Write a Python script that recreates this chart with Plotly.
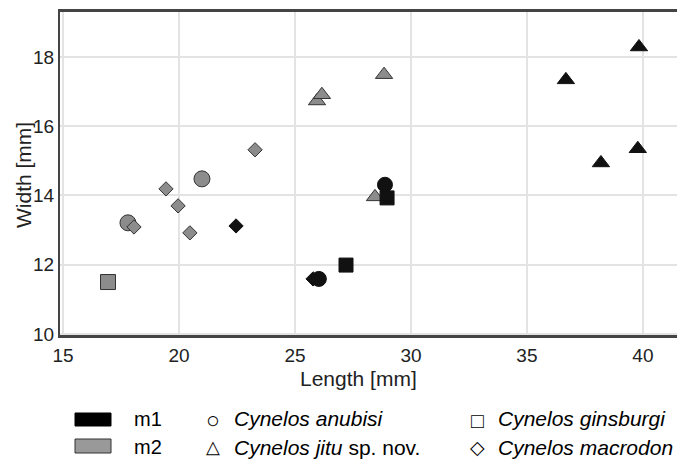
import plotly.graph_objects as go

# ---- data (Length, Width in mm) ----
anubisi_m1_x = [28.88, 26.03]
anubisi_m1_y = [14.31, 11.59]
anubisi_m2_x = [17.80, 20.99]
anubisi_m2_y = [13.21, 14.48]

ginsburgi_m1_x = [27.20, 28.97]
ginsburgi_m1_y = [11.99, 13.93]
ginsburgi_m2_x = [16.94]
ginsburgi_m2_y = [11.50]

jitu_m1_x = [39.83, 36.68, 39.78, 38.19]
jitu_m1_y = [18.29, 17.34, 15.35, 14.94]
jitu_m2_x = [25.95, 26.16, 28.84, 28.45]
jitu_m2_y = [16.73, 16.91, 17.49, 13.96]

macrodon_m1_x = [22.46, 25.78]
macrodon_m1_y = [13.12, 11.59]
macrodon_m2_x = [18.06, 19.44, 19.96, 20.47, 23.28]
macrodon_m2_y = [13.09, 14.19, 13.70, 12.92, 15.32]

x_ticks = [15, 20, 25, 30, 35, 40]
y_ticks = [10, 12, 14, 16, 18]

BLACK = "#111111"
GRAY = "#8c8c8c"
EDGE = "#333333"
FONT = "Liberation Sans, Arial, sans-serif"

fig = go.Figure()

def add(xs, ys, symbol, size, fill, edge):
    fig.add_trace(go.Scatter(
        x=xs, y=ys, mode="markers", showlegend=False, hoverinfo="skip",
        marker=dict(symbol=symbol, size=size, color=fill,
                    line=dict(color=edge, width=1)),
    ))

add(ginsburgi_m2_x, ginsburgi_m2_y, "square", 15, GRAY, EDGE)
add(anubisi_m2_x, anubisi_m2_y, "circle", 16, GRAY, EDGE)
add(macrodon_m2_x, macrodon_m2_y, "diamond", 11, GRAY, EDGE)
add(jitu_m2_x, jitu_m2_y, "triangle-up", 15, GRAY, EDGE)
add(macrodon_m1_x, macrodon_m1_y, "diamond", 11, BLACK, BLACK)
add(anubisi_m1_x, anubisi_m1_y, "circle", 15, BLACK, BLACK)
add(ginsburgi_m1_x, ginsburgi_m1_y, "square", 14, BLACK, BLACK)
add(jitu_m1_x, jitu_m1_y, "triangle-up", 15, BLACK, BLACK)

L, R, T, B = 60, 0, 12, 125
W, H = 677, 460
pw, ph = W - L - R, H - T - B

def px(x):
    return (x - L) / pw

def py(y):
    return (H - B - y) / ph

shapes = [
    dict(type="rect", xref="paper", yref="paper",
         x0=px(75), x1=px(111), y0=py(426), y1=py(413),
         fillcolor="#000000", line=dict(color="#000000", width=1)),
    dict(type="rect", xref="paper", yref="paper",
         x0=px(75), x1=px(111), y0=py(453), y1=py(439),
         fillcolor="#999999", line=dict(color="#333333", width=1)),
]

annotations = []

def note(x0, y0, text, size, anchor="left", angle=0, color="#000000"):
    annotations.append(dict(
        text=text, xref="paper", yref="paper", x=px(x0), y=py(y0),
        xanchor=anchor, yanchor="middle", showarrow=False, textangle=angle,
        font=dict(family=FONT, size=size, color=color),
    ))

# legend
note(132, 419, "m1", 20)
note(132, 447, "m2", 20)
note(213, 420, "○", 23, anchor="center")
note(213, 447, "△", 18, anchor="center")
note(477, 420, "□", 21, anchor="center")
note(477, 447, "◇", 19, anchor="center")
note(232, 419, "<i>Cynelos anubisi</i>", 21)
note(232, 447, "<i>Cynelos jitu</i> sp. nov.", 21)
note(496, 419, "<i>Cynelos ginsburgi</i>", 21)
note(496, 447, "<i>Cynelos macrodon</i>", 21)

# axis titles
note(358, 378, "Length [mm]", 21, anchor="center", color="#222222")
note(23, 175, "Width [mm]", 21, anchor="center", angle=-90, color="#222222")

fig.update_layout(
    width=W, height=H,
    margin=dict(l=L, r=R, t=T, b=B, autoexpand=False),
    paper_bgcolor="white", plot_bgcolor="white",
    font=dict(family=FONT, size=19, color="#222222"),
    shapes=shapes, annotations=annotations,
    showlegend=False,
)

fig.update_xaxes(
    range=[14.87, 41.47], tickvals=x_ticks, ticktext=[str(v) for v in x_ticks],
    showgrid=True, gridcolor="#e3e3e3", gridwidth=2, zeroline=False,
    showline=True, linecolor="#444444", linewidth=3, mirror=True,
    ticks="", ticklabelstandoff=1,
)
fig.update_yaxes(
    range=[9.97, 19.3], tickvals=y_ticks, ticktext=[str(v) for v in y_ticks],
    showgrid=True, gridcolor="#e3e3e3", gridwidth=2, zeroline=False,
    showline=True, linecolor="#444444", linewidth=2, mirror=False,
    ticks="", ticklabelstandoff=0,
)

fig.write_html("out.html", config={"displayModeBar": False},
               post_script="document.body.style.margin='0';")
